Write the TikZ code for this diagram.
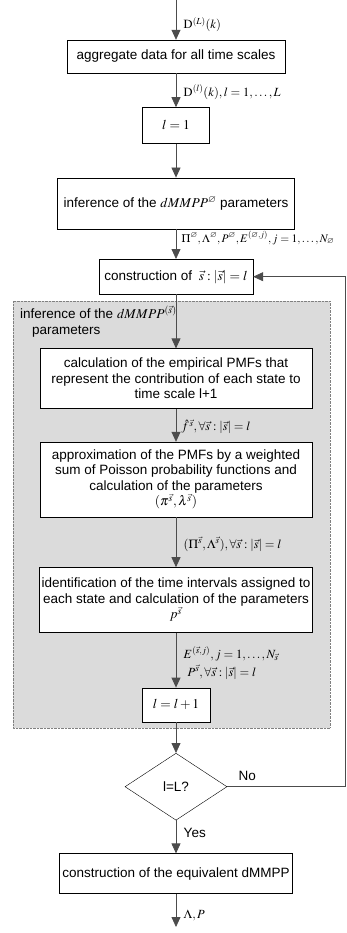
\documentclass[tikz,border=0pt]{standalone}
\usepackage{amsmath,amssymb}
\usepackage{mathptmx}
\usepackage{fontspec}
\setmainfont{Liberation Sans}
\usepackage{tikz}
\usetikzlibrary{shapes.geometric,arrows.meta,positioning,backgrounds}
\definecolor{areagray}{rgb}{0.86,0.86,0.86}
\definecolor{linegray}{rgb}{0.3,0.3,0.3}
\newcommand{\vs}{\vec{s}}

\tikzset{
  procbox/.style={draw, fill=white, align=center, font=\fontsize{13.5}{15.5}\selectfont, inner sep=2pt},
  flow/.style={-{Triangle[length=10pt,width=9pt]}, draw=linegray, line width=0.8pt},
  lbl/.style={right=4pt, font=\fontsize{12.5}{15}\selectfont}
}

\begin{document}
\begin{tikzpicture}[x=1pt,y=1pt]
  \useasboundingbox (0,0) rectangle (347,-933);

  % gray area for the inner inference
  \begin{scope}[on background layer]
    \draw[fill=areagray, draw=gray, densely dotted] (13,-301) rectangle (330,-728);
  \end{scope}
  \node[anchor=north west, align=left, font=\fontsize{13.5}{16}\selectfont, inner sep=0pt] (areatitle) at (20,-306)
    {inference of the $dMMPP^{(\vs)}$\\\hspace*{12pt}parameters};

  % entry point
  \coordinate (start) at (176,0);

  % boxes of the main flow
  \node[procbox, minimum width=218pt, minimum height=33pt] (aggr) at (176,-56.5) {aggregate data for all time scales};
  \node[procbox, minimum width=67pt, minimum height=36pt, below=34pt of aggr] (init) {$l=1$};
  \node[procbox, minimum width=237pt, minimum height=51pt, below=34pt of init] (infz) {inference of the $dMMPP^{\varnothing}$ parameters};
  \node[procbox, minimum width=154pt, minimum height=35pt, below=30pt of infz] (cons) {construction of $\;\vs:\lvert\vs\rvert=l$};

  % boxes inside the gray area
  \node[procbox, minimum width=272pt, minimum height=60pt, below=54pt of cons] (calc)
    {calculation of the empirical PMFs that\\represent the contribution of each state to\\time scale l+1};
  \node[procbox, minimum width=272pt, minimum height=75pt, below=33pt of calc] (appr)
    {approximation of the PMFs by a weighted\\sum of Poisson probability functions and\\calculation of the parameters\\$(\pi^{\vs},\lambda^{\vs})$};
  \node[procbox, minimum width=272pt, minimum height=65pt, below=50pt of appr] (iden)
    {identification of the time intervals assigned to\\each state and calculation of the parameters\\$p^{\vs}$};
  \node[procbox, minimum width=68pt, minimum height=34pt, below=55pt of iden] (incr) {$l=l+1$};

  % decision and end
  \node[draw, diamond, fill=white, aspect=1.52, minimum width=102pt, minimum height=67pt, inner sep=0pt,
        font=\fontsize{13.5}{15.5}\selectfont, below=31pt of incr] (dec) {l=L?};
  \node[procbox, minimum width=233pt, minimum height=40pt, below=33pt of dec] (equi) {construction of the equivalent dMMPP};
  \coordinate (stop) at (176,-927);
  \coordinate (back) at (345,0);

  % connectors
  \draw[flow] (start) -- (aggr) node[lbl, pos=0.62] {$\mathrm{D}^{(L)}(k)$};
  \draw[flow] (aggr) -- (init) node[lbl, pos=0.55] {$\mathrm{D}^{(l)}(k), l=1,\ldots,L$};
  \draw[flow] (init) -- (infz);
  \draw[flow] (infz) -- (cons) node[right=2pt, pos=0.3, font=\fontsize{11.5}{14}\selectfont] {$\Pi^{\varnothing},\Lambda^{\varnothing},P^{\varnothing},E^{(\varnothing,j)}, j=1,\ldots,N_{\varnothing}$};
  \draw[flow] (cons) -- (calc);
  \draw[flow] (calc) -- (appr) node[lbl, pos=0.55, inner sep=1pt] {$\hat{f}^{\,\vs},\forall\vs:\lvert\vs\rvert=l$};
  \draw[flow] (appr) -- (iden) node[lbl, pos=0.54] {$(\Pi^{\vs},\Lambda^{\vs}),\forall\vs:\lvert\vs\rvert=l$};
  \draw[flow] (iden) -- (incr) node[right=4pt, pos=0.55, align=left, font=\fontsize{12.5}{15}\selectfont]
    {$E^{(\vs,j)}, j=1,\ldots,N_{\vs}$\\[3pt]\hspace*{4pt}$P^{\vs},\forall\vs:\lvert\vs\rvert=l$};
  \draw[flow] (incr) -- (dec);
  \draw[flow] (dec) -- (equi) node[right=4pt, pos=0.38, font=\fontsize{13.5}{15.5}\selectfont] {Yes};
  \draw[flow] (equi) -- (stop) node[lbl, pos=0.65] {$\Lambda,P$};
  \draw[flow] (dec.east) -- (dec.east -| back) node[above=2pt, pos=0.17, font=\fontsize{13.5}{15.5}\selectfont] {No} |- (cons.east);
\end{tikzpicture}
\end{document}
